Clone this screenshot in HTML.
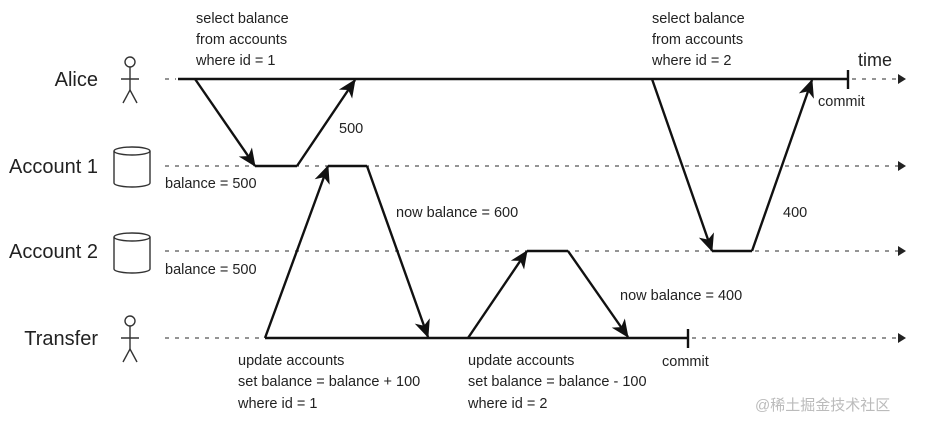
<!DOCTYPE html>
<html><head><style>body{margin:0;background:#fff}svg{display:block}text{font-family:"Liberation Sans","Noto Sans CJK SC",sans-serif;fill:#222}</style></head><body>
<svg width="929" height="428" viewBox="0 0 929 428">
<defs>
<marker id="b" markerWidth="18" markerHeight="18" refX="17" refY="9" orient="auto" markerUnits="userSpaceOnUse" viewBox="0 0 18 18"><path d="M0,1 L18,9 L0,17 L5,9z" fill="#111"/></marker></defs>
<g stroke="#555" stroke-width="1.2" stroke-dasharray="4,6" fill="none">
<line x1="165" y1="79" x2="176" y2="79"/>
<line x1="852" y1="79" x2="900" y2="79"/>
<line x1="165" y1="166" x2="900" y2="166"/>
<line x1="165" y1="251" x2="900" y2="251"/>
<line x1="165" y1="338" x2="263" y2="338"/>
<line x1="692" y1="338" x2="900" y2="338"/>
</g>
<g fill="#222"><path d="M898,74 L906,79 L898,84z"/><path d="M898,161 L906,166 L898,171z"/><path d="M898,246 L906,251 L898,256z"/><path d="M898,333 L906,338 L898,343z"/></g>
<g stroke="#111" stroke-width="2.4" fill="none">
<line x1="178" y1="79" x2="848" y2="79"/><line x1="848" y1="70" x2="848" y2="89"/>
<line x1="265" y1="338" x2="688" y2="338"/><line x1="688" y1="329" x2="688" y2="348"/>
<line x1="195" y1="79" x2="255" y2="166" marker-end="url(#b)"/><line x1="255" y1="166" x2="297" y2="166"/><line x1="297" y1="166" x2="355" y2="80" marker-end="url(#b)"/>
<line x1="265" y1="338" x2="328" y2="166" marker-end="url(#b)"/><line x1="328" y1="166" x2="367" y2="166"/><line x1="367" y1="166" x2="428" y2="337" marker-end="url(#b)"/>
<line x1="468" y1="338" x2="527" y2="251" marker-end="url(#b)"/><line x1="527" y1="251" x2="568" y2="251"/><line x1="568" y1="251" x2="628" y2="337" marker-end="url(#b)"/>
<line x1="652" y1="79" x2="712" y2="251" marker-end="url(#b)"/><line x1="712" y1="251" x2="752" y2="251"/><line x1="752" y1="251" x2="812" y2="80" marker-end="url(#b)"/>
</g>
<g stroke="#333" stroke-width="1.4" fill="none">
<circle cx="130" cy="62" r="5"/><line x1="130" y1="67" x2="130" y2="90"/><line x1="121" y1="79" x2="139" y2="79"/><path d="M123,103 L130,90 L137,103"/>
<circle cx="130" cy="321" r="5"/><line x1="130" y1="326" x2="130" y2="349"/><line x1="121" y1="338" x2="139" y2="338"/><path d="M123,362 L130,349 L137,362"/>
<path d="M114,151 L114,183 A18,4 0 0 0 150,183 L150,151"/><ellipse cx="132" cy="151" rx="18" ry="4"/>
<path d="M114,237 L114,269 A18,4 0 0 0 150,269 L150,237"/><ellipse cx="132" cy="237" rx="18" ry="4"/>
</g>
<g font-size="20" text-anchor="end"><text x="98" y="86">Alice</text><text x="98" y="173">Account 1</text><text x="98" y="258">Account 2</text><text x="98" y="345">Transfer</text></g>
<g font-size="14.5">
<text x="196" y="23">select balance</text><text x="196" y="44">from accounts</text><text x="196" y="65">where id = 1</text>
<text x="652" y="23">select balance</text><text x="652" y="44">from accounts</text><text x="652" y="65">where id = 2</text>
<text x="339" y="133">500</text><text x="783" y="217">400</text>
<text x="165" y="188">balance = 500</text><text x="165" y="274">balance = 500</text>
<text x="396" y="217">now balance = 600</text><text x="620" y="300">now balance = 400</text>
<text x="818" y="106">commit</text><text x="662" y="366">commit</text>
<text x="238" y="365">update accounts</text><text x="238" y="386">set balance = balance + 100</text><text x="238" y="408">where id = 1</text>
<text x="468" y="365">update accounts</text><text x="468" y="386">set balance = balance - 100</text><text x="468" y="408">where id = 2</text>
</g>
<text x="858" y="66" font-size="18">time</text>
<text x="755" y="410" font-size="15" style="fill:#bbb">@稀土掘金技术社区</text>
</svg>
</body></html>
